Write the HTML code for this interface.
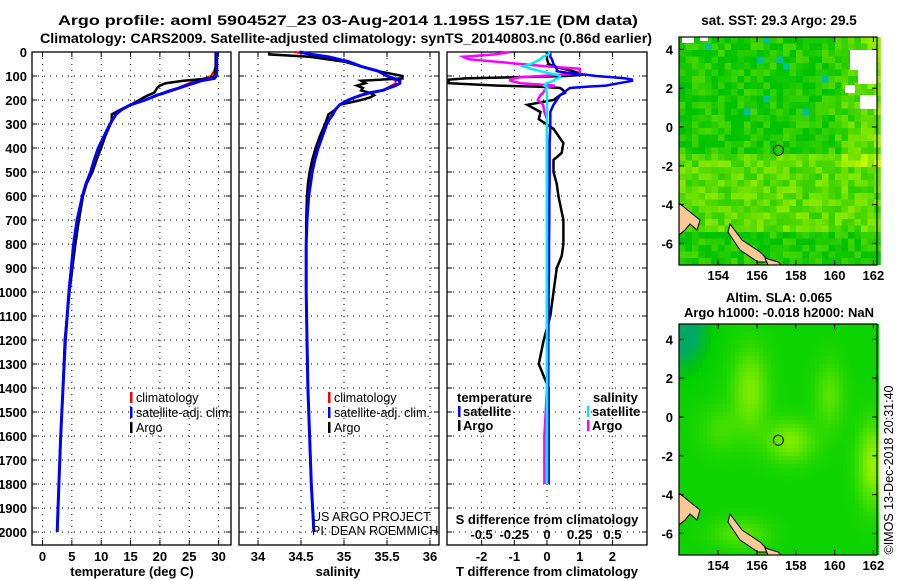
<!DOCTYPE html>
<html><head><meta charset="utf-8"><style>
body{margin:0;background:#fff;}
svg{display:block;font-family:"Liberation Sans",sans-serif;}
.t{font-size:13.5px;font-weight:bold;fill:#000;}
.k{font-size:13px;font-weight:bold;fill:#000;}
.l{font-size:12.5px;fill:#000;}
</style></head><body>
<svg id="c" width="900" height="580" viewBox="0 0 900 580">
<text class="t" x="58" y="25" textLength="580" lengthAdjust="spacingAndGlyphs">Argo profile: aoml 5904527_23 03-Aug-2014 1.195S 157.1E (DM data)</text>
<text class="t" x="40" y="43" textLength="612" lengthAdjust="spacingAndGlyphs">Climatology: CARS2009. Satellite-adjusted climatology: synTS_20140803.nc (0.86d earlier)</text>
<text class="t" x="779" y="25" text-anchor="middle">sat. SST: 29.3 Argo: 29.5</text>
<text class="k" x="779" y="302" text-anchor="middle">Altim. SLA: 0.065</text>
<text class="k" x="779" y="317" text-anchor="middle">Argo h1000: -0.018 h2000: NaN</text>
<text class="l" transform="translate(893,470) rotate(-90)" text-anchor="middle">©IMOS 13-Dec-2018 20:31:40</text>
<g id="g"></g>
</svg>
<script>
// ---- data ----
const depths = [0,10,20,40,60,80,100,110,120,130,140,150,160,170,180,190,200,220,240,260,280,300,350,400,450,500,550,600,700,800,900,1000,1200,1400,1600,1800,2000];
const tempClim = [29.6,29.6,29.6,29.6,29.5,29.2,28.7,27.5,26,25,24,23,21.5,20.5,19.5,18.5,17.5,15,13.5,12.6,12.1,11.6,10.5,9.6,8.9,8.2,7.4,6.8,5.9,5.3,4.9,4.5,3.9,3.5,3.1,2.8,2.5];
const tempSat = [29.7,29.7,29.7,29.7,29.7,29.7,29.6,29.3,27,25.8,24.5,23.3,22,20.8,19.5,18.5,17.5,15,13.5,12.5,12,11.5,10.5,9.5,8.8,8.2,7.4,6.8,5.9,5.3,4.9,4.5,3.9,3.5,3.1,2.8,2.5];
const tempArgo = [29.5,29.5,29.5,29.5,29.5,29.4,29.3,28.5,24,21,20,19.5,19.3,19,18,17.2,16.5,15,13.3,11.8,11.8,11.6,10.7,10,9.2,8.5,7.5,6.9,6.2,5.6,5.1,4.6,3.8,3.5,3.1,2.8,2.5];
const salClim = [34.42,34.6,34.8,35.05,35.2,35.4,35.5,35.55,35.6,35.6,35.55,35.5,35.45,35.3,35.2,35.12,35.05,34.95,34.9,34.87,34.83,34.8,34.75,34.7,34.66,34.63,34.61,34.59,34.57,34.56,34.56,34.56,34.57,34.58,34.6,34.62,34.65];
const salSat = [34.48,34.62,34.82,35.05,35.2,35.4,35.5,35.58,35.65,35.65,35.6,35.52,35.45,35.3,35.2,35.12,35.05,34.95,34.9,34.87,34.83,34.8,34.75,34.7,34.66,34.63,34.61,34.59,34.57,34.56,34.56,34.56,34.57,34.58,34.6,34.62,34.65];
const salArgo = [34.13,34.13,34.6,35.0,35.2,35.4,35.68,35.68,35.2,35.25,35.15,35.22,35.2,35.3,35.35,35.3,35.2,34.95,34.9,34.82,34.8,34.78,34.72,34.67,34.63,34.6,34.58,34.57,34.56,34.56,34.56,34.56,34.57,34.58,34.6,34.62,34.65];
const diffDepths = [0,10,20,30,50,60,70,80,90,95,100,105,110,115,120,130,140,145,150,160,170,180,200,220,250,280,320,380,420,450,500,550,600,700,800,850,900,1000,1100,1200,1300,1400,1600,1800];
const dTArgo = [0,0,0,0,0.05,0.2,0.5,0.8,1.0,1.1,0.6,-1,-2.5,-3,-3,-3,-1.5,-0.2,0.4,0.5,0.55,0.4,0.2,-0.6,-0.2,-0.25,0.2,0.5,0.45,0.2,0.2,0.3,0.35,0.5,0.5,0.45,0.3,0.2,0.1,-0.1,-0.25,0.05,0.05,0.05];
const dTSat = [0.1,0.1,0.1,0.15,0.2,0.25,0.3,0.3,0.8,1.2,1.5,2.0,2.4,2.6,2.6,2.2,1.8,1.2,0.7,0.6,0.5,0.4,0.3,0.2,0.1,0.1,0.1,0.08,0.08,0.08,0.08,0.08,0.07,0.07,0.06,0.06,0.06,0.05,0.05,0.04,0.04,0.04,0.03,0.03];
const dSArgo = [-0.28,-0.4,-0.64,-0.6,-0.2,0,0.25,0.25,0.25,0.1,-0.05,-0.2,-0.25,-0.28,-0.28,-0.2,0.06,0.02,0,-0.02,-0.03,-0.05,-0.07,-0.03,-0.02,0,0,0,0,0,0,0,0,0,0,0,0,0,0,0,0,0,-0.02,-0.02];
const dSSat = [0.02,0.01,-0.03,-0.05,-0.12,-0.18,-0.12,-0.05,0.03,0.08,0.1,0.1,0.08,0.06,0.05,0.0,-0.02,0,0,-0.01,0,0,0,0,0,0,0,0,0,0,0,0,0,0,0,0,0,0,0,0,0,0,0,0];
const depthTicks = [0,100,200,300,400,500,600,700,800,900,1000,1100,1200,1300,1400,1500,1600,1700,1800,1900,2000];
const tempTicks = [0,5,10,15,20,25,30];
const salTicks = ["34","34.5","35","35.5","36"];
const dTTicks = [-2,-1,0,1,2];
const dSTickLabels = ["-0.5","-0.25","0","0.25","0.5"];
const lonTicks = [154,156,158,160,162];
const latTicks = [4,2,0,-2,-4,-6];

const NS='http://www.w3.org/2000/svg';
const G=document.getElementById('g');
function el(t,a,p){const e=document.createElementNS(NS,t);for(const k in a)e.setAttribute(k,a[k]);(p||G).appendChild(e);return e;}
const yD=d=>52+d*0.24;
const PT=52, PB=545;
const xT=v=>42.5+v*5.87;
const xS=v=>258+(v-34)*86;
const xDT=v=>547+v*32.7;
const xDS=v=>547+v*130.8;

function panel(x0,x1,name,xticks,xfun){
  const r=el('rect',{x:x0,y:PT,width:x1-x0,height:PB-PT,fill:'#fff',stroke:'#000','stroke-width':1.3});
  
  depthTicks.forEach(d=>{
    const l=el('line',{x1:x0,x2:x1,y1:yD(d),y2:yD(d),stroke:'#000','stroke-dasharray':'1 5','stroke-width':1});
    
    el('line',{x1:x0,x2:x0+5,y1:yD(d),y2:yD(d),stroke:'#000'});
    el('line',{x1:x1-5,x2:x1,y1:yD(d),y2:yD(d),stroke:'#000'});
  });
  xticks.forEach(v=>{
    const x=xfun(v);
    const l=el('line',{x1:x,x2:x,y1:PT,y2:PB,stroke:'#000','stroke-dasharray':'1 5','stroke-width':1});
    
    el('line',{x1:x,x2:x,y1:PB-5,y2:PB,stroke:'#000'});
    el('line',{x1:x,x2:x,y1:PT,y2:PT+5,stroke:'#000'});
  });
}
function line(ds,vs,xf,col,w,name){
  const p=ds.map((d,i)=>xf(vs[i]).toFixed(1)+','+yD(d).toFixed(1)).join(' ');
  const e=el('polyline',{points:p,fill:'none',stroke:col,'stroke-width':w,'stroke-linejoin':'miter'});
  
}
function txt(x,y,s,cls,anchor,name){
  const e=el('text',{x:x,y:y,class:cls,'text-anchor':anchor||'middle'});e.textContent=s;
  return e;
}
// panel 1
panel(32,231,'temp-panel',tempTicks,xT);
depthTicks.forEach(d=>txt(27,yD(d)+5,String(d),'k','end','depth-tick-label'));
tempTicks.forEach(v=>txt(xT(v),561,String(v),'k','middle','temp-tick-label'));
txt(132,576,'temperature (deg C)','k','middle','temp-axis-title');
line(depths,tempClim,xT,'#f00',2,'temp-climatology-line');
line(depths,tempArgo,xT,'#000',2.5,'temp-argo-line');
line(depths,tempSat,xT,'#00f',3,'temp-satellite-line');
// panel 2
panel(239,439,'sal-panel',salTicks.map(Number),xS);
salTicks.forEach(v=>txt(xS(+v),561,v,'k','middle','sal-tick-label'));
txt(338,576,'salinity','k','middle','sal-axis-title');
line(depths,salClim,xS,'#f00',2,'sal-climatology-line');
line(depths,salArgo,xS,'#000',2.5,'sal-argo-line');
line(depths,salSat,xS,'#00f',3,'sal-satellite-line');
// legends
function legend(x,name){
  [['#f00','climatology',402],['#00f','satellite-adj. clim.',417],['#000','Argo',432]].forEach(a=>{
    const b=el('rect',{x:x,y:a[2]-10,width:2.5,height:11,fill:a[0]});
    
    txt(x+6,a[2],a[1],'l','start',name+'-entry');
  });
}
legend(130,'temp-legend');legend(328,'sal-legend');
txt(312,521,'US ARGO PROJECT','l','start','credit-project');
txt(312,535,'PI: DEAN ROEMMICH','l','start','credit-pi');
// panel 3
panel(447,647,'diff-panel',dTTicks,xDT);
dTTicks.forEach(v=>txt(xDT(v),561,String(v),'k','middle','t-diff-tick-label'));
txt(547,576,'T difference from climatology','k','middle','t-diff-axis-title');
txt(547,524,'S difference from climatology','k','middle','s-diff-axis-title');
dSTickLabels.forEach((s,i)=>txt(xDT(dTTicks[i]),539,s,'k','middle','s-diff-tick-label'));
line(diffDepths,dTArgo,xDT,'#000',2.5,'t-diff-argo-line');
line(diffDepths,dSArgo,xDS,'#f0f',2.5,'s-diff-argo-line');
line(diffDepths,dTSat,xDT,'#00f',2.5,'t-diff-satellite-line');
line(diffDepths,dSSat,xDS,'#0ee',2.5,'s-diff-satellite-line');
txt(457,402,'temperature','k','start','diff-legend-temp-header');
txt(593,402,'salinity','k','start','diff-legend-sal-header');
[['#00f','satellite',416,458],['#000','Argo',430,458],['#0ee','satellite',416,587],['#f0f','Argo',430,587]].forEach(a=>{
  const b=el('rect',{x:a[3],y:a[2]-10,width:2.5,height:11,fill:a[0]});
  
  txt(a[3]+5,a[2],a[1],'k','start','diff-legend-entry');
});
// maps
function hash(i,j){let h=(i*374761393+j*668265263)|0;h=(h^(h>>>13))*1274126177|0;h=h^(h>>>16);return ((h>>>0)%10000)/10000;}
function map(top,bot,name,smooth){
  const L=679,R=877;
  const lonX=v=>757+(v-156)*19.4;
  const latY=v=>(top===37?127:417)-v*19.4;
  const grp=el('g',{});
  const cs=smooth?4:6.5;
  let iy=0;
  for(let y=top;y<bot;y+=cs,iy++){let ix=0;for(let x=L;x<R;x+=cs,ix++){
    const u=(x-L)/(R-L),v=(y-top)/(bot-top);
    let t,r,g,b;
    if(!smooth){
      const rr=hash(ix,iy);
      const band=(v>0.5&&v<0.85)?0.3:0;
      const ne=(u>0.7&&v<0.55)?0.45*(u-0.7)/0.3:0;
      t=0.12+band+ne+(rr-0.5)*0.45;
      t=Math.max(0,Math.min(1,t));
      if(hash(ix+50,iy+7)<0.03&&v<0.4&&u<0.75){r=0;g=190;b=160;}
      else {r=Math.round(t*215);g=Math.round(195+t*60);b=0;}
    } else {
      t=0.2+0.45*Math.exp(-((u-0.35)**2/0.008+(v-0.28)**2/0.03))+0.45*Math.exp(-((u-0.55)**2/0.015+(v-0.5)**2/0.008))+0.55*Math.exp(-((u-0.97)**2/0.006+(v-0.6)**2/0.03))+0.3*Math.exp(-((u-0.75)**2/0.005+(v-0.3)**2/0.02))-0.3*Math.exp(-((u)**2/0.015+(v)**2/0.03))+0.3*Math.exp(-((u-0.3)**2/0.02+(v-0.9)**2/0.004))+0.2*Math.exp(-((u-0.2)**2/0.01+(v-0.45)**2/0.01));
      t=Math.max(0,Math.min(1,t));
      if(t<0.15){r=0;g=Math.round(170+t*200);b=Math.round(100*(0.15-t)/0.15);}
      else {r=Math.round((t-0.15)/0.85*215);g=Math.round(200+t*55);b=0;}
    }
    el('rect',{x:x,y:y,width:cs+0.3,height:Math.min(cs+0.3,bot-y),fill:`rgb(${r},${g},${b})`},grp);
  }}
  if(!smooth){
    [[682,37,12,6],[700,37,8,4],[850,50,27,20],[858,70,19,14],[845,85,10,8],[860,95,17,14]].forEach(w=>{
      el('rect',{x:w[0],y:w[1],width:w[2],height:w[3],fill:'#fff'},grp);});
  }
  // land
  [[[679,target(top,203)],[690,target(top,212)],[700,target(top,220)],[697,target(top,230)],[690,target(top,224)],[685,target(top,230)],[679,target(top,235)]],
   [[730,target(top,224)],[742,target(top,240)],[760,target(top,252)],[770,target(top,262)],[758,target(top,262)],[740,target(top,250)],[728,target(top,232)]],
   [[765,target(top,258)],[778,target(top,262)],[781,target(top,265)],[768,target(top,265)]]].forEach(p=>{
    const e=el('polygon',{points:p.map(q=>q.join(',')).join(' '),fill:'#fcc896',stroke:'#000','stroke-width':1});
    
  });
  const c=el('circle',{cx:lonX(157.1),cy:latY(-1.2),r:5,fill:'none',stroke:'#000','stroke-width':1});
  
  const f=el('rect',{x:L,y:top,width:R-L,height:bot-top,fill:'none',stroke:'#000','stroke-width':1.2});
  
  lonTicks.forEach(v=>{const x=lonX(v);el('line',{x1:x,x2:x,y1:top,y2:top+5,stroke:'#000'});el('line',{x1:x,x2:x,y1:bot-5,y2:bot,stroke:'#000'});
    txt(x,bot+15,String(v),'k','middle',name+'-lon-label');});
  latTicks.forEach(v=>{const y=latY(v);el('line',{x1:L,x2:L+5,y1:y,y2:y,stroke:'#000'});el('line',{x1:R-5,x2:R,y1:y,y2:y,stroke:'#000'});
    txt(L-6,y+5,String(v),'k','end',name+'-lat-label');});
}
function target(top,y){return top===37?y:y+290;}
map(37,265,'sst-map',false);
map(324,555,'sla-map',true);
</script>
</body></html>
